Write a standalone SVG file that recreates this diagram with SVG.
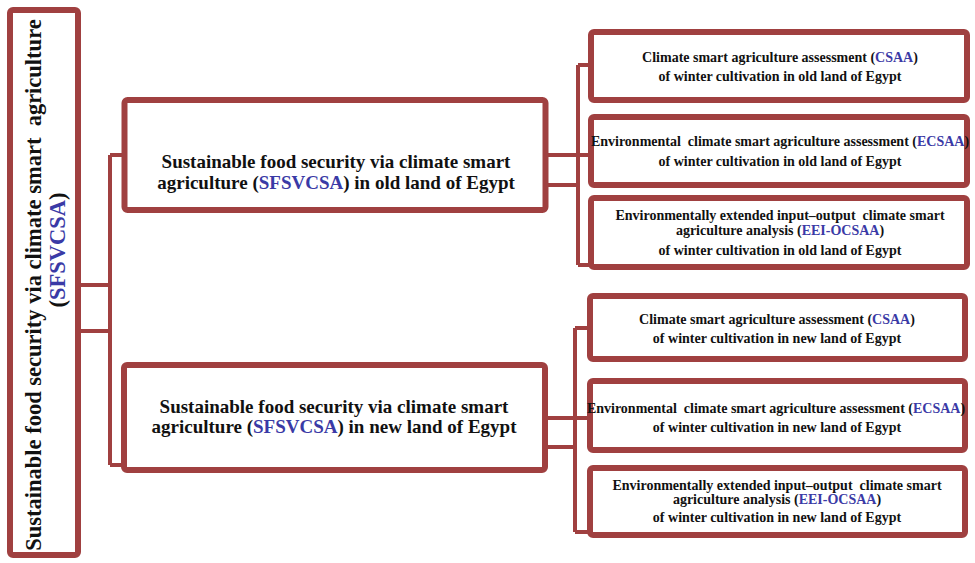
<svg xmlns="http://www.w3.org/2000/svg" width="975" height="563" viewBox="0 0 975 563">
<style>
.box{fill:#fff;stroke:#a04040;stroke-width:6}
.con{fill:none;stroke:#a04040;stroke-width:4}
text{font-family:"Liberation Serif","Times New Roman",serif;font-weight:bold;fill:#111;text-anchor:middle}
.b{fill:#3a3aa6}
.t1{font-size:22.5px}
.t2{font-size:19px}
.t3{font-size:14px}
</style>
<rect width="975" height="563" fill="#fff"/>
<g id="connectors">
<path class="con" d="M80 285H110M80 331H110M110 155V465M110 155H124M110 465H124"/>
<path class="con" d="M548 155H591M548 185H578M578 65V265M578 65H591M578 265H591"/>
<path class="con" d="M547 418H590M547 447H575M575 328V532M575 328H590M575 532H590"/>
</g>
<g id="root">
<rect class="box" x="10" y="10" width="68" height="545" rx="3"/>
<text class="t1" transform="translate(41 285) rotate(-90)" xml:space="preserve">Sustainable food security via climate smart  agriculture</text>
<text class="t1" transform="translate(65 250) rotate(-90)">(<tspan class="b">SFSVCSA</tspan>)</text>
</g>
<g id="old">
<rect class="box" x="124.5" y="100" width="421" height="110" rx="3"/>
<text class="t2" x="336" y="168">Sustainable food security via climate smart</text>
<text class="t2" x="336" y="189">agriculture (<tspan class="b">SFSVCSA</tspan>) in old land of Egypt</text>
</g>
<g id="new">
<rect class="box" x="124" y="365" width="421" height="105" rx="3"/>
<text class="t2" x="334" y="413">Sustainable food security via climate smart</text>
<text class="t2" x="334" y="433">agriculture (<tspan class="b">SFSVCSA</tspan>) in new land of Egypt</text>
</g>
<g id="old-csaa">
<rect class="box" x="591" y="32" width="376" height="68" rx="3"/>
<text class="t3" x="780" y="62">Climate smart agriculture assessment (<tspan class="b">CSAA</tspan>)</text>
<text class="t3" x="780" y="81">of winter cultivation in old land of Egypt</text>
</g>
<g id="old-ecsaa">
<rect class="box" x="591" y="117" width="376" height="68" rx="3"/>
<text class="t3" x="780" y="146" xml:space="preserve">Environmental  climate smart agriculture assessment (<tspan class="b">ECSAA</tspan>)</text>
<text class="t3" x="780" y="166">of winter cultivation in old land of Egypt</text>
</g>
<g id="old-eei">
<rect class="box" x="591" y="198" width="376" height="69" rx="3"/>
<text class="t3" x="780" y="220" xml:space="preserve">Environmentally extended input–output  climate smart</text>
<text class="t3" x="780" y="235">agriculture analysis (<tspan class="b">EEI-OCSAA</tspan>)</text>
<text class="t3" x="780" y="255">of winter cultivation in old land of Egypt</text>
</g>
<g id="new-csaa">
<rect class="box" x="590" y="296" width="375" height="63" rx="3"/>
<text class="t3" x="777" y="324">Climate smart agriculture assessment (<tspan class="b">CSAA</tspan>)</text>
<text class="t3" x="777" y="343">of winter cultivation in new land of Egypt</text>
</g>
<g id="new-ecsaa">
<rect class="box" x="590" y="381" width="375" height="69" rx="3"/>
<text class="t3" x="776" y="413" xml:space="preserve">Environmental  climate smart agriculture assessment (<tspan class="b">ECSAA</tspan>)</text>
<text class="t3" x="777" y="432">of winter cultivation in new land of Egypt</text>
</g>
<g id="new-eei">
<rect class="box" x="590" y="468" width="375" height="67" rx="3"/>
<text class="t3" x="777" y="490" xml:space="preserve">Environmentally extended input–output  climate smart</text>
<text class="t3" x="777" y="504">agriculture analysis (<tspan class="b">EEI-OCSAA</tspan>)</text>
<text class="t3" x="777" y="522">of winter cultivation in new land of Egypt</text>
</g>
</svg>
